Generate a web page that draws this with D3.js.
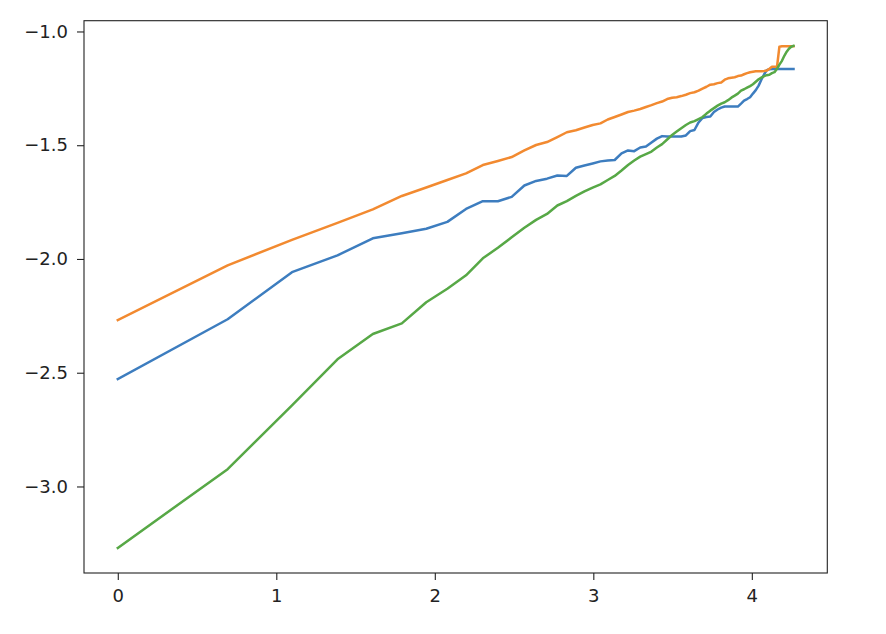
<!DOCTYPE html>
<html>
<head>
<meta charset="utf-8">
<script src="https://cdn.jsdelivr.net/npm/d3@7"></script>
<style>
  body { margin: 0; background: #fff; }
  svg text { font-family: "DejaVu Sans", sans-serif; font-size: 18px; fill: #222; }
</style>
</head>
<body>
<svg id="chart"></svg>
<script>
// x = ln(n), n = 1..71
const xValues = [
  0.000, 0.693, 1.099, 1.386, 1.609, 1.792, 1.946, 2.079, 2.197, 2.303,
  2.398, 2.485, 2.565, 2.639, 2.708, 2.773, 2.833, 2.890, 2.944, 2.996,
  3.045, 3.091, 3.135, 3.178, 3.219, 3.258, 3.296, 3.332, 3.367, 3.401,
  3.434, 3.466, 3.497, 3.526, 3.555, 3.584, 3.611, 3.638, 3.664, 3.689,
  3.714, 3.738, 3.761, 3.784, 3.807, 3.829, 3.850, 3.871, 3.892, 3.912,
  3.932, 3.951, 3.970, 3.989, 4.007, 4.025, 4.043, 4.060, 4.078, 4.094,
  4.111, 4.127, 4.143, 4.159, 4.174, 4.190, 4.205, 4.220, 4.234, 4.248,
  4.263
];

const blueValues = [
  -2.528, -2.265, -2.058, -1.984, -1.909, -1.887, -1.867, -1.837, -1.780, -1.746,
  -1.746, -1.727, -1.677, -1.657, -1.647, -1.633, -1.635, -1.599, -1.589, -1.580,
  -1.571, -1.567, -1.565, -1.536, -1.523, -1.526, -1.510, -1.506, -1.488, -1.471,
  -1.460, -1.462, -1.462, -1.462, -1.462, -1.457, -1.438, -1.433, -1.400, -1.380,
  -1.376, -1.374, -1.354, -1.343, -1.335, -1.330, -1.330, -1.330, -1.330, -1.330,
  -1.317, -1.304, -1.297, -1.289, -1.273, -1.258, -1.238, -1.212, -1.188, -1.170,
  -1.166, -1.165, -1.165, -1.165, -1.165, -1.165, -1.165, -1.165, -1.165, -1.165,
  -1.165
];

const orangeValues = [
  -2.269, -2.028, -1.916, -1.841, -1.782, -1.723, -1.686, -1.653, -1.624, -1.587,
  -1.569, -1.552, -1.523, -1.499, -1.486, -1.464, -1.443, -1.434, -1.422, -1.411,
  -1.404, -1.387, -1.376, -1.365, -1.354, -1.348, -1.341, -1.332, -1.324, -1.315,
  -1.308, -1.297, -1.291, -1.289, -1.284, -1.278, -1.271, -1.267, -1.260, -1.251,
  -1.243, -1.234, -1.232, -1.227, -1.224, -1.212, -1.206, -1.203, -1.201, -1.196,
  -1.194, -1.188, -1.183, -1.179, -1.177, -1.175, -1.175, -1.175, -1.174, -1.172,
  -1.164, -1.155, -1.155, -1.155, -1.067, -1.065, -1.065, -1.065, -1.065, -1.065,
  -1.065
];

const greenValues = [
  -3.270, -2.924, -2.644, -2.441, -2.330, -2.283, -2.190, -2.131, -2.072, -1.997,
  -1.951, -1.905, -1.863, -1.828, -1.802, -1.765, -1.746, -1.723, -1.703, -1.686,
  -1.672, -1.653, -1.635, -1.611, -1.587, -1.567, -1.550, -1.539, -1.528, -1.510,
  -1.495, -1.475, -1.455, -1.440, -1.425, -1.411, -1.400, -1.394, -1.385, -1.376,
  -1.361, -1.348, -1.337, -1.326, -1.317, -1.311, -1.302, -1.291, -1.282, -1.273,
  -1.260, -1.254, -1.247, -1.240, -1.232, -1.221, -1.210, -1.203, -1.196, -1.192,
  -1.190, -1.183, -1.179, -1.164, -1.146, -1.129, -1.107, -1.089, -1.076, -1.067,
  -1.063
];

const xTicks = [0, 1, 2, 3, 4];
const yTicks = [-3.0, -2.5, -2.0, -1.5, -1.0];

const seriesColors = ["#3d7dbf", "#f28a30", "#57a846"];

class LineChart {
  margin = { top: 20.7, right: 58.7, bottom: 61, left: 84 }

  constructor(svg, width = 886, height = 634) {
    this.svg = d3.select(svg);
    this.width = width - this.margin.left - this.margin.right;
    this.height = height - this.margin.top - this.margin.bottom;
  }

  // matplotlib style 5% padding around the data range
  padded(extent) {
    const pad = (extent[1] - extent[0]) * 0.05;
    return [extent[0] - pad, extent[1] + pad];
  }

  draw(xs, seriesList) {
    this.svg.attr("width", this.width + this.margin.left + this.margin.right)
      .attr("height", this.height + this.margin.top + this.margin.bottom);

    const g = this.svg.append("g")
      .attr("transform", `translate(${this.margin.left}, ${this.margin.top})`);

    const allY = seriesList.flat();
    this.xScale = d3.scaleLinear().domain(this.padded(d3.extent(xs))).range([0, this.width]);
    this.yScale = d3.scaleLinear().domain(this.padded(d3.extent(allY))).range([this.height, 0]);

    const line = d3.line()
      .x((d, i) => this.xScale(xs[i]))
      .y(d => this.yScale(d));

    g.selectAll("path.series")
      .data(seriesList)
      .join("path")
      .attr("class", "series")
      .attr("d", line)
      .attr("fill", "none")
      .attr("stroke", (d, i) => seriesColors[i])
      .attr("stroke-width", 2.5)
      .attr("stroke-linecap", "square")
      .attr("stroke-linejoin", "round");

    const xAxis = g.append("g")
      .attr("transform", `translate(0, ${this.height})`)
      .call(d3.axisBottom(this.xScale).tickValues(xTicks).tickFormat(d3.format("d"))
        .tickSize(7).tickPadding(9));

    const yAxis = g.append("g")
      .call(d3.axisLeft(this.yScale).tickValues(yTicks).tickFormat(d3.format(".1f"))
        .tickSize(7).tickPadding(9));

    [xAxis, yAxis].forEach(a => {
      a.select(".domain").remove();
      a.attr("font-family", null).attr("font-size", null);
      a.selectAll(".tick line").attr("stroke", "#222").attr("stroke-width", 1.1);
    });

    g.append("rect")
      .attr("width", this.width)
      .attr("height", this.height)
      .attr("fill", "none")
      .attr("stroke", "#222")
      .attr("stroke-width", 1.1);
  }
}

const chart = new LineChart("#chart");
chart.draw(xValues, [blueValues, orangeValues, greenValues]);
</script>
</body>
</html>
